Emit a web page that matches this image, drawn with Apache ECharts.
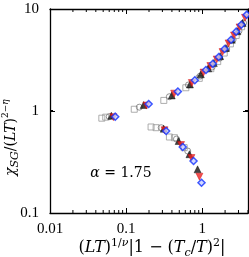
<!DOCTYPE html>
<html><head><meta charset="utf-8">
<script src="https://cdn.jsdelivr.net/npm/echarts@6/dist/echarts.min.js"></script>
<style>html,body{margin:0;padding:0;background:#fff}#c{width:249px;height:257px}</style>
</head><body><div id="c"></div>
<script>
const xTicks = [0.01, 0.1, 1];
const yTicks = [0.1, 1, 10];
const xRange = [0.01, 4];
const yRange = [0.1, 10];

const graySquares = [[0.048,0.85],[0.054,0.87],[0.128,1.04],[0.213,0.697],[0.248,0.686],[0.313,1.27],[0.371,0.556],[0.432,0.547],[0.58,0.437],[0.61,1.69],[0.915,2.09],[1.3,2.6],[1.6,3.05],[1.95,3.7],[2.35,4.55],[2.8,5.5],[3.3,6.7]];
const grayCircles = [[0.06,0.88],[0.149,1.09],[0.289,0.686],[0.37,1.38],[0.459,0.531],[0.646,0.405],[0.66,1.8],[0.94,2.2],[1.35,2.7],[1.7,3.3],[2.1,4.05],[2.55,5.0],[3.05,6.1],[3.5,7.3]];
const blackTri = [[0.064,0.9],[0.17,1.145],[0.312,0.671],[0.398,1.42],[0.49,0.508],[0.68,0.377],[0.69,1.82],[0.87,0.268],[0.96,2.29],[1.2,2.62],[1.42,2.95],[1.72,3.45],[2.05,4.15],[2.45,5.0],[2.9,6.05],[3.4,7.3]];
const redDown = [[0.068,0.87],[0.185,1.13],[0.32,0.647],[0.428,1.48],[0.528,0.464],[0.723,0.346],[0.73,1.88],[0.92,0.227],[1.04,2.38],[1.28,2.76],[1.55,3.2],[1.85,3.78],[2.22,4.6],[2.62,5.5],[3.1,6.6],[3.65,8.2]];
const blueDia = [[0.072,0.88],[0.198,1.17],[0.336,0.637],[0.479,1.55],[0.555,0.444],[0.77,0.323],[0.8,2.0],[0.98,0.198],[1.12,2.52],[1.38,2.9],[1.65,3.38],[1.97,4.05],[2.4,5.0],[2.8,6.0],[3.27,7.0],[3.85,8.8]];

// minor tick positions (2..9 per decade)
const xMinor = [], yMinor = [];
[0.01, 0.1, 1].forEach(d => { for (let m = 2; m <= 9; m++) { const v = +(d*m).toPrecision(3); if (v <= xRange[1]) xMinor.push(v); } });
[0.1, 1].forEach(d => { for (let m = 2; m <= 9; m++) yMinor.push(+(d*m).toPrecision(3)); });

const FONT = 'Liberation Serif';
const MFONT = 'DejaVu Serif';
const chart = echarts.init(document.getElementById('c'), null, {renderer: 'canvas'});

const match = (v, arr) => arr.find(t => Math.abs(Math.log10(v) - Math.log10(t)) < 1e-6);
const fmtX = v => { const t = match(v, xTicks); return t === undefined ? '' : String(t); };
const fmtY = v => { const t = match(v, yTicks); return t === undefined ? '' : String(t); };

const axisCommon = {
  type: 'log', logBase: 10, interval: 1,
  axisLine: {show: true, onZero: false, lineStyle: {color: '#000', width: 1.3}},
  axisTick: {show: true, inside: true, length: 5, lineStyle: {color: '#000', width: 1}},
  splitLine: {show: false},
  minorTick: {show: false}
};

function mkRich(main, sub, sup) {
  return {
    n: {fontFamily: MFONT, fontSize: main, color: '#000', lineHeight: main + 5, verticalAlign: 'middle'},
    i: {fontFamily: MFONT, fontSize: main, fontStyle: 'italic', color: '#000', lineHeight: main + 5, verticalAlign: 'middle'},
    sup: {fontFamily: MFONT, fontSize: sup, color: '#000', lineHeight: sup + 1, verticalAlign: 'top'},
    supi: {fontFamily: MFONT, fontSize: sup, fontStyle: 'italic', color: '#000', lineHeight: sup + 1, verticalAlign: 'top'},
    subi: {fontFamily: MFONT, fontSize: sub, fontStyle: 'italic', color: '#000', lineHeight: sub + 1, verticalAlign: 'bottom'}
  };
}

function minorRender(isX) {
  return function (params, api) {
    const v = api.value(0);
    let lines;
    if (isX) {
      const b = api.coord([v, yRange[0]]), t = api.coord([v, yRange[1]]);
      lines = [[b[0], b[1], b[0], b[1] - 3], [t[0], t[1], t[0], t[1] + 3]];
    } else {
      const l = api.coord([xRange[0], v]), r = api.coord([xRange[1], v]);
      lines = [[l[0], l[1], l[0] + 3, l[1]], [r[0], r[1], r[0] - 3, r[1]]];
    }
    return {type: 'group', children: lines.map(s => ({type: 'line', shape: {x1: s[0], y1: s[1], x2: s[2], y2: s[3]}, style: {stroke: '#000', lineWidth: 1}}))};
  };
}

const option = {
  backgroundColor: '#fff',
  animation: false,
  grid: {left: 50, right: 1, top: 9, bottom: 44, containLabel: false},
  xAxis: [
    Object.assign({}, axisCommon, {position: 'bottom', min: xRange[0], max: xRange[1],
      axisLabel: {show: true, formatter: fmtX, fontFamily: FONT, fontSize: 15, color: '#000', margin: 9, showMaxLabel: false}}),
    Object.assign({}, axisCommon, {position: 'top', min: xRange[0], max: xRange[1], axisLabel: {show: false}})
  ],
  yAxis: [
    Object.assign({}, axisCommon, {position: 'left', min: yRange[0], max: yRange[1],
      axisLabel: {show: true, formatter: fmtY, fontFamily: FONT, fontSize: 15, color: '#000', margin: 11}}),
    Object.assign({}, axisCommon, {position: 'right', min: yRange[0], max: yRange[1], axisLabel: {show: false}})
  ],
  graphic: [
    {type: 'text', x: 152, y: 248, style: {
      text: '{n|(}{i|LT}{n|)}{sup|1/}{supi|ν}{n||1 − (}{i|T}{subi|c}{n|/}{i|T}{n|)}{sup|2}{n||}',
      rich: mkRich(16, 11, 11), align: 'center', verticalAlign: 'middle'}},
    {type: 'text', x: 11, y: 176, rotation: Math.PI / 2, style: {
      text: '{i|χ}{subi|SG}{n|/(}{i|LT}{n|)}{sup|2−}{supi|η}',
      rich: mkRich(14, 11, 9), align: 'left', verticalAlign: 'middle'}},
    {type: 'text', x: 121, y: 173, style: {
      text: '{i|α}{n| = 1.75}', rich: {
        i: {fontFamily: MFONT, fontSize: 14, fontStyle: 'italic', color: '#000'},
        n: {fontFamily: MFONT, fontSize: 14, color: '#000'}},
      align: 'center', verticalAlign: 'middle'}}
  ],
  series: [
    {type: 'custom', xAxisIndex: 0, yAxisIndex: 0, data: xMinor.map(v => [v, 1]), renderItem: minorRender(true), clip: false, silent: true, z: 1},
    {type: 'custom', xAxisIndex: 0, yAxisIndex: 0, data: yMinor.map(v => [1, v]), renderItem: minorRender(false), clip: false, silent: true, z: 1},
    {type: 'scatter', data: graySquares, symbol: 'rect', symbolSize: 6,
      itemStyle: {color: 'rgba(255,255,255,0)', borderColor: '#9a9a9a', borderWidth: 1}},
    {type: 'scatter', data: grayCircles, symbol: 'circle', symbolSize: 6,
      itemStyle: {color: 'rgba(255,255,255,0)', borderColor: '#7a7a7a', borderWidth: 1}},
    {type: 'scatter', data: blackTri, symbol: 'triangle', symbolSize: 7,
      itemStyle: {color: '#111', borderColor: '#000', borderWidth: 0.5}},
    {type: 'scatter', data: redDown, symbol: 'triangle', symbolRotate: 180, symbolSize: 7,
      itemStyle: {color: '#ee2222', borderColor: '#cc0000', borderWidth: 0.5}},
    {type: 'scatter', data: blueDia, symbol: 'diamond', symbolSize: 7,
      itemStyle: {color: '#c8d0ff', borderColor: '#1030ff', borderWidth: 1.5}}
  ]
};
chart.setOption(option);
</script>
</body></html>
